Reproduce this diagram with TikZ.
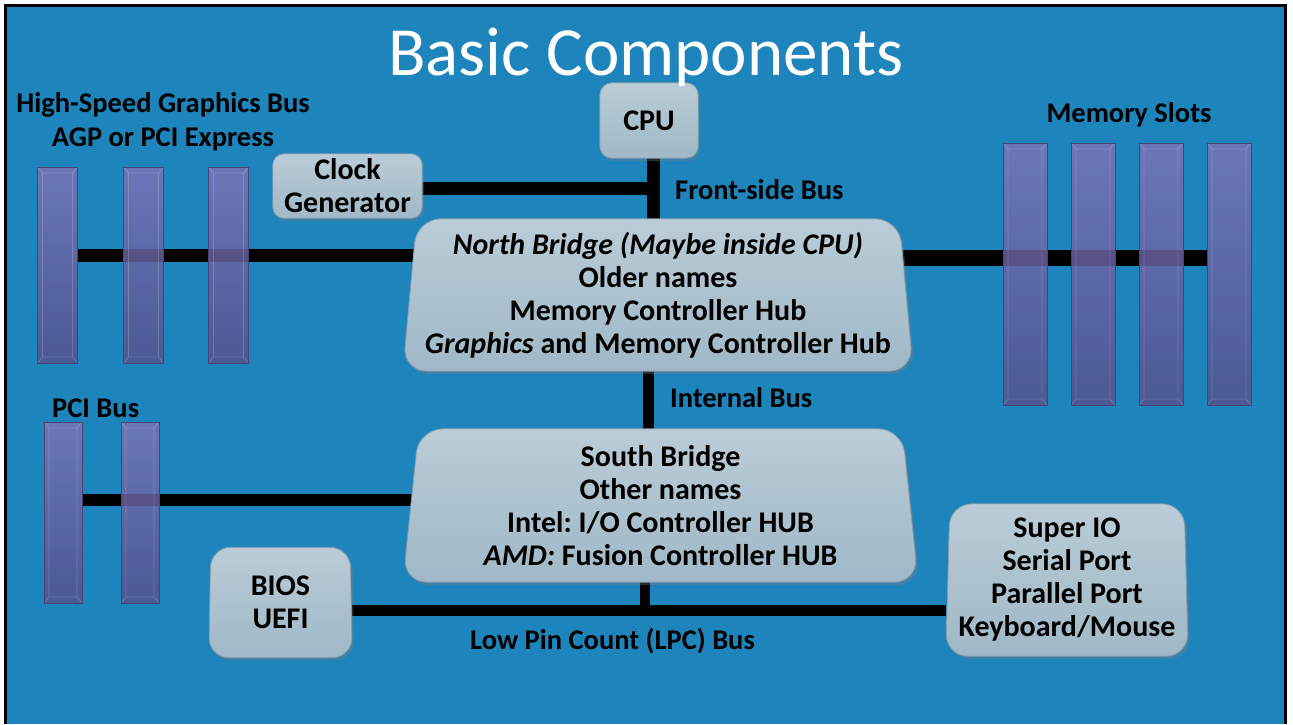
\documentclass[tikz,border=0pt]{standalone}
\usepackage{fontspec}
\setmainfont{Carlito}
\frenchspacing
\usetikzlibrary{shadows,calc}
\definecolor{bgblue}{RGB}{30,132,188}
\definecolor{boxtop}{RGB}{186,204,215}
\definecolor{boxbot}{RGB}{160,184,199}
\definecolor{boxedge}{RGB}{130,155,172}
\definecolor{slottop}{RGB}{124,116,184}
\definecolor{slotbot}{RGB}{86,80,140}
\definecolor{slotedge}{RGB}{72,66,120}
\pgfdeclarelayer{bg}\pgfdeclarelayer{wires}\pgfdeclarelayer{parts}
\pgfsetlayers{bg,wires,parts,main}
\begin{document}
\begin{tikzpicture}[x=1pt,y=-1pt,
  bus/.style={line width=13pt,black},
  boxtxt/.style={font=\bfseries\fontsize{30}{33}\selectfont,align=center,text=black,inner sep=0pt},
  lbl/.style={font=\bfseries\fontsize{28.5}{34}\selectfont,align=center,inner sep=0pt,text=black},
  panel/.style={top color=boxtop,bottom color=boxbot,draw=boxedge,line width=0.8pt,
    drop shadow={shadow xshift=2pt,shadow yshift=-3pt,opacity=0.35}},
  slot/.style={draw=slotedge,line width=0.8pt,top color=slottop,bottom color=slotbot,
    fill opacity=0.82,inner sep=0pt,
    path picture={
      \draw[white,opacity=0.18,line width=0.8pt]
        ($(path picture bounding box.north west)+(5,6)$) rectangle ($(path picture bounding box.south east)+(-5,-6)$)
        (path picture bounding box.north west) -- ++(5,6)
        (path picture bounding box.north east) -- ++(-5,6)
        (path picture bounding box.south west) -- ++(5,-6)
        (path picture bounding box.south east) -- ++(-5,-6);}}
]
\useasboundingbox (0,0) rectangle (1293,724);
\begin{pgfonlayer}{bg}
\fill[bgblue] (5.5,5.5) rectangle (1285.5,724);
\draw[line width=2.5pt] (5.5,724) -- (5.5,5.5) -- (1285.5,5.5) -- (1285.5,724);
\end{pgfonlayer}

% title
\node[font=\fontsize{69}{75}\selectfont,text=white,inner sep=0pt,anchor=base] (title) at (646,75) {Basic Components};

% boxes
\node[boxtxt,minimum width=98,minimum height=75] (cpu) at (649,120.5) {CPU};
\node[boxtxt,minimum width=149,minimum height=64] (clk) at (347.5,186) {Clock\\Generator};
\node[boxtxt,minimum width=510,minimum height=152] (nb) at (658,295) {\textit{North Bridge (Maybe inside CPU)}\\Older names\\Memory Controller Hub\\\textit{Graphics} and Memory Controller Hub};
\node[boxtxt,minimum width=515,minimum height=153] (sb) at (660.5,505.5) {South Bridge\\Other names\\Intel: I/O Controller HUB\\\textit{AMD:} Fusion Controller HUB};
\node[boxtxt,minimum width=143,minimum height=110] (bios) at (280.5,602.5) {BIOS\\UEFI};
\node[boxtxt,minimum width=242,minimum height=152] (sio) at (1067,580) {Super IO\\Serial Port\\Parallel Port\\Keyboard/Mouse};

% slots
\node[slot,minimum width=40,minimum height=196] (g1) at (57.5,265) {};
\node[slot,minimum width=40,minimum height=196] (g2) at (143.5,265) {};
\node[slot,minimum width=40,minimum height=196] (g3) at (228.5,265) {};
\node[slot,minimum width=44,minimum height=262] (m1) at (1025,274) {};
\node[slot,minimum width=44,minimum height=262] (m2) at (1093,274) {};
\node[slot,minimum width=44,minimum height=262] (m3) at (1161,274) {};
\node[slot,minimum width=44,minimum height=262] (m4) at (1229,274) {};
\node[slot,minimum width=38,minimum height=181] (p1) at (63,512.5) {};
\node[slot,minimum width=38,minimum height=181] (p2) at (140,512.5) {};

% labels
\node[lbl] (lagp1) at (163,105) {High-Speed Graphics Bus};
\node[lbl] (lagp2) at (163,139) {AGP or PCI Express};
\node[lbl] (lmem) at (1129,115) {Memory Slots};
\node[lbl,anchor=west] (lfsb) at (675,190) {Front-side Bus};
\node[lbl,anchor=west] (lint) at (670,398) {Internal Bus};
\node[lbl,anchor=west] (lpci) at (52,408) {PCI Bus};
\node[lbl] (llpc) at (612.5,641) {Low Pin Count (LPC) Bus};

% panels
\begin{pgfonlayer}{parts}
\path[panel,rounded corners=12pt] (cpu.north west) rectangle (cpu.south east);
\path[panel,rounded corners=11pt] (clk.north west) rectangle (clk.south east);
\path[panel,rounded corners=24pt] ($(nb.north west)+(14,0)$) -- ($(nb.north east)+(-14,0)$) -- (nb.south east) -- (nb.south west) -- cycle;
\path[panel,rounded corners=24pt] ($(sb.north west)+(16,0)$) -- ($(sb.north east)+(-16,0)$) -- (sb.south east) -- (sb.south west) -- cycle;
\path[panel,rounded corners=20pt] ($(bios.north west)+(2,0)$) -- ($(bios.north east)+(-2,0)$) -- (bios.south east) -- (bios.south west) -- cycle;
\path[panel,rounded corners=22pt] ($(sio.north west)+(4,0)$) -- ($(sio.north east)+(-4,0)$) -- (sio.south east) -- (sio.south west) -- cycle;
\end{pgfonlayer}

% wires
\begin{pgfonlayer}{wires}
\coordinate (fsb) at (653,188);
\coordinate (agp) at (0,255);
\coordinate (mem) at (0,258);
\coordinate (pci) at (0,500);
\coordinate (ib) at (648,0);
\coordinate (lpc) at (645,610);
\draw[bus] (cpu.south -| fsb) -- (fsb |- nb.north);
\draw[bus] (clk.east |- fsb) -- ($(fsb)+(6,0)$);
\draw[bus] (g1.east |- agp) -- (nb.center |- agp);
\draw[bus,line width=16pt] (nb.center |- mem) -- (m4.west |- mem);
\draw[bus,line width=12pt] (p1.east |- pci) -- (sb.center |- pci);
\draw[bus,line width=11pt] (nb.south -| ib) -- (ib |- sb.north);
\draw[bus,line width=10pt] (sb.south -| lpc) -- (lpc);
\draw[bus,line width=11pt] (bios.east |- lpc) -- (sio.west |- lpc);
\end{pgfonlayer}
\end{tikzpicture}
\end{document}
